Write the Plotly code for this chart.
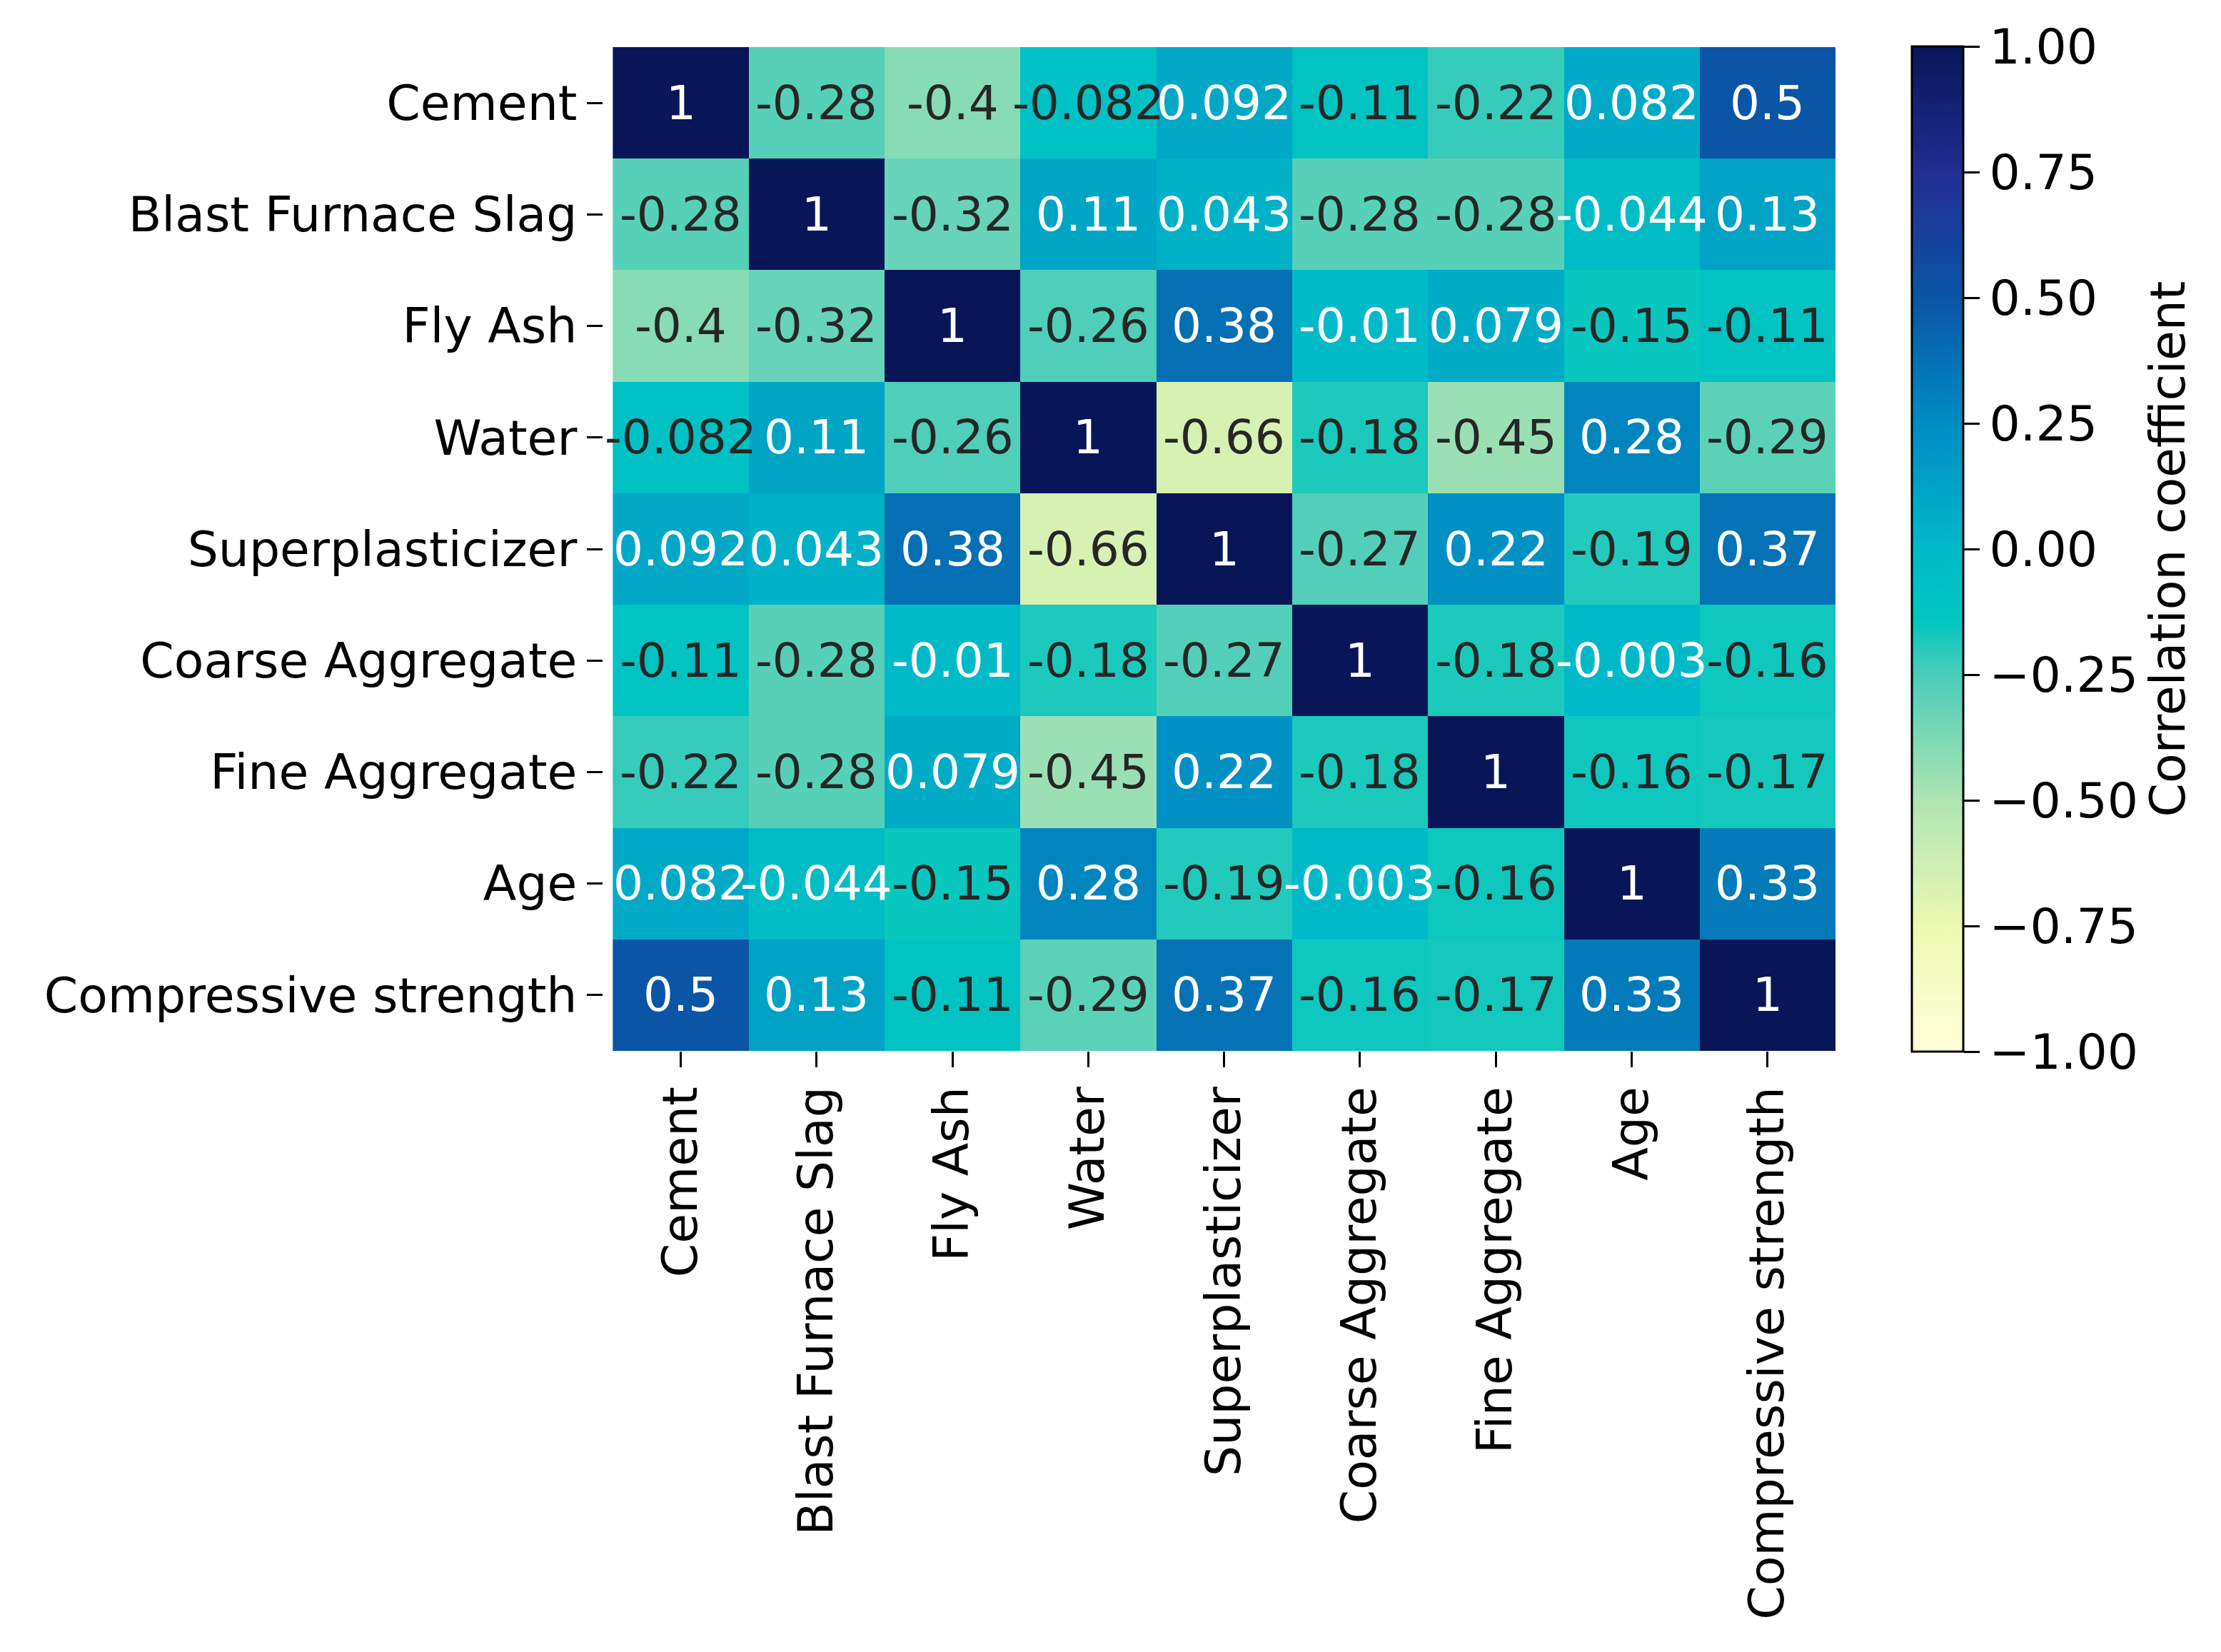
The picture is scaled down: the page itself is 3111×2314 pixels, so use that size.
import plotly.graph_objects as go

labels = ["Cement", "Blast Furnace Slag", "Fly Ash", "Water", "Superplasticizer",
          "Coarse Aggregate", "Fine Aggregate", "Age", "Compressive strength"]

corr = [
    [1, -0.28, -0.4, -0.082, 0.092, -0.11, -0.22, 0.082, 0.5],
    [-0.28, 1, -0.32, 0.11, 0.043, -0.28, -0.28, -0.044, 0.13],
    [-0.4, -0.32, 1, -0.26, 0.38, -0.01, 0.079, -0.15, -0.11],
    [-0.082, 0.11, -0.26, 1, -0.66, -0.18, -0.45, 0.28, -0.29],
    [0.092, 0.043, 0.38, -0.66, 1, -0.27, 0.22, -0.19, 0.37],
    [-0.11, -0.28, -0.01, -0.18, -0.27, 1, -0.18, -0.003, -0.16],
    [-0.22, -0.28, 0.079, -0.45, 0.22, -0.18, 1, -0.16, -0.17],
    [0.082, -0.044, -0.15, 0.28, -0.19, -0.003, -0.16, 1, 0.33],
    [0.5, 0.13, -0.11, -0.29, 0.37, -0.16, -0.17, 0.33, 1],
]

cbar_ticks = [-1.0, -0.75, -0.5, -0.25, 0.0, 0.25, 0.5, 0.75, 1.0]

colorscale = [
    [0.0, "rgb(255,255,217)"],
    [0.125, "rgb(237,248,177)"],
    [0.25, "rgb(175,228,180)"],
    [0.375, "rgb(75,205,185)"],
    [0.43, "rgb(0,198,192)"],
    [0.5, "rgb(0,185,200)"],
    [0.625, "rgb(0,140,195)"],
    [0.75, "rgb(10,85,165)"],
    [0.875, "rgb(35,45,145)"],
    [1.0, "rgb(8,22,88)"],
]

FONT = "DejaVu Sans"

fig = go.Figure()
fig.add_trace(go.Heatmap(
    z=corr, x=labels, y=labels, zmin=-1, zmax=1,
    colorscale=colorscale, xgap=0, ygap=0,
    colorbar=dict(
        title=dict(text="Correlation coefficient", side="right",
                   font=dict(family=FONT, size=68, color="black")),
        tickvals=cbar_ticks, tickformat=".2f",
        tickfont=dict(family=FONT, size=68, color="black"),
        ticks="outside", ticklen=22, tickwidth=3, tickcolor="black",
        outlinecolor="black", outlinewidth=3,
        thickness=72, len=1408, lenmode="pixels",
        x=1.062, xanchor="left", xpad=0,
        y=0.5, yanchor="middle", ypad=0,
    ),
))

annotations = []
for i, row_name in enumerate(labels):
    for j, col_name in enumerate(labels):
        v = corr[i][j]
        annotations.append(dict(
            x=col_name, y=row_name, xref="x", yref="y",
            text=format(v, ".2g"), showarrow=False,
            font=dict(family=FONT, size=66,
                      color="white" if v > -0.06 else "#262626"),
        ))

fig.update_layout(
    width=3111, height=2314,
    margin=dict(l=837, r=548, t=58, b=850),
    paper_bgcolor="white", plot_bgcolor="white",
    annotations=annotations,
    font=dict(family=FONT, size=68, color="black"),
    xaxis=dict(tickangle=-90, ticks="outside", ticklen=22, tickwidth=3,
               tickcolor="black", showgrid=False, zeroline=False,
               tickfont=dict(family=FONT, size=68, color="black")),
    yaxis=dict(autorange="reversed", ticks="outside", ticklen=22, tickwidth=3,
               tickcolor="black", showgrid=False, zeroline=False,
               tickfont=dict(family=FONT, size=68, color="black")),
)

fig.write_html("out.html")
